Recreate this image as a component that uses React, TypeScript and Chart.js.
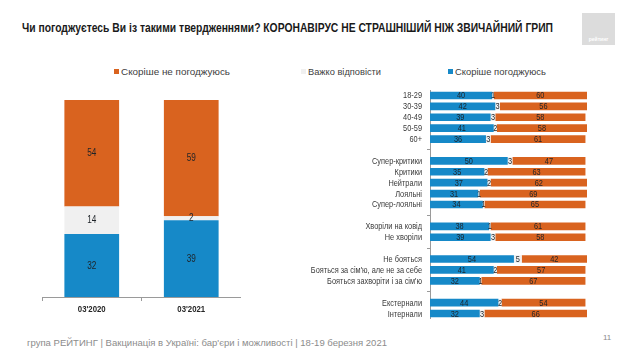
import React, { useEffect, useLayoutEffect, useRef } from "react";
import { Chart, registerables } from "chart.js";

Chart.register(...registerables);

const BLUE = "#1689c8";
const ORANGE = "#d9631f";
const GRAY = "#f0f0f0";
const HFONT = "'Liberation Sans', Arial, sans-serif";
const NARROW = 0.82;

// Left chart
const periods = ["03'2020", "03'2021"];
const leftAgree = [32, 39];
const leftHard = [14, 2];
const leftDisagree = [54, 59];

// Right chart
const groups = [
  "18-29", "30-39", "40-49", "50-59", "60+", "",
  "Супер-критики", "Критики", "Нейтрали", "Лояльні", "Супер-лояльні", "",
  "Хворіли на ковід", "Не хворіли", "",
  "Не бояться", "Бояться за сім'ю, але не за себе", "Бояться захворіти і за сім'ю", "",
  "Екстернали", "Інтернали",
];
const groupAgree = [40, 42, 39, 41, 36, null, 50, 35, 37, 31, 34, null, 38, 39, null, 54, 41, 32, null, 44, 32];
const groupHard = [1, 3, 3, 2, 3, null, 3, 2, 2, 1, 1, null, 1, 3, null, 5, 2, 1, null, 2, 3];
const groupDisagree = [60, 56, 58, 58, 61, null, 47, 63, 62, 69, 65, null, 61, 58, null, 42, 57, 67, null, 54, 66];

const legendItems = [
  { label: "Скоріше не погоджуюсь", color: ORANGE, x: 114, w: 109 },
  { label: "Важко відповісти", color: GRAY, x: 301, w: 73 },
  { label: "Скоріше погоджуюсь", color: BLUE, x: 448, w: 91 },
];

function FitText(props: { text: string; width: number; style: any }) {
  const ref = useRef<HTMLDivElement>(null);
  useLayoutEffect(() => {
    const el = ref.current!;
    el.style.transform = "none";
    const w = el.getBoundingClientRect().width;
    if (w > 0) el.style.transform = `scaleX(${props.width / w})`;
  }, [props.text, props.width]);
  return (
    <div ref={ref} style={{ display: "block", width: "max-content", whiteSpace: "nowrap", transformOrigin: "0 50%", ...props.style }}>
      {props.text}
    </div>
  );
}

function narrowText(ctx: any, text: string, x: number, y: number, align: string, font: string, color: string) {
  ctx.save();
  ctx.font = font;
  ctx.fillStyle = color;
  ctx.textAlign = align;
  ctx.textBaseline = "middle";
  ctx.translate(x, y);
  ctx.scale(NARROW, 1);
  ctx.fillText(text, 0, 0);
  ctx.restore();
}

const segLabels = (fontSize: number) => ({
  id: "segLabels",
  afterDatasetsDraw(chart: any) {
    chart.data.datasets.forEach((ds: any, i: number) => {
      const meta = chart.getDatasetMeta(i);
      meta.data.forEach((el: any, j: number) => {
        const v = ds.data[j];
        if (v === null || v === undefined) return;
        const p = el.getCenterPoint();
        narrowText(chart.ctx, String(v), p.x, p.y + 0.5, "center", `${fontSize}px ${HFONT}`, "#1e2328");
      });
    });
  },
});

const leftTicks = {
  id: "leftTicks",
  afterDraw(chart: any) {
    const xs = chart.scales.x;
    (chart.data.labels as string[]).forEach((lab, i) => {
      narrowText(chart.ctx, lab, xs.getPixelForValue(i), chart.chartArea.bottom + 12.5, "center",
        `bold 9.5px ${HFONT}`, "#262626");
    });
  },
};

const rightTicks = {
  id: "rightTicks",
  afterDraw(chart: any) {
    const ys = chart.scales.y;
    (chart.data.labels as string[]).forEach((lab, i) => {
      if (!lab) return;
      narrowText(chart.ctx, lab, chart.chartArea.left - 8, ys.getPixelForValue(i) + 0.5, "right",
        `9px ${HFONT}`, "#3a3a3a");
    });
  },
};

function LeftChart() {
  const ref = useRef<HTMLCanvasElement>(null);
  useEffect(() => {
    const chart = new Chart(ref.current!, {
      type: "bar",
      data: {
        labels: periods,
        datasets: [
          { label: "Скоріше погоджуюсь", data: leftAgree, backgroundColor: BLUE },
          { label: "Важко відповісти", data: leftHard, backgroundColor: GRAY },
          { label: "Скоріше не погоджуюсь", data: leftDisagree, backgroundColor: ORANGE },
        ],
      },
      options: {
        animation: false,
        responsive: false,
        maintainAspectRatio: false,
        layout: { padding: 0 },
        datasets: { bar: { categoryPercentage: 1, barPercentage: 0.55 } },
        plugins: { legend: { display: false }, tooltip: { enabled: false } },
        scales: {
          x: {
            stacked: true,
            grid: { drawOnChartArea: false, tickLength: 4, color: "#9a9a9a" },
            border: { color: "#9a9a9a" },
            ticks: { color: "rgba(0,0,0,0)", font: { size: 9 } },
            afterFit: (s: any) => { s.height = 28; s.paddingLeft = 0; s.paddingRight = 0; },
          },
          y: { stacked: true, display: false, min: 0, max: 100 },
        },
      },
      plugins: [segLabels(10), leftTicks],
    } as any);
    return () => chart.destroy();
  }, []);
  return (
    <canvas ref={ref} width={199} height={225}
      style={{ position: "absolute", left: 42, top: 100, width: 199, height: 225 }} />
  );
}

function RightChart() {
  const ref = useRef<HTMLCanvasElement>(null);
  useEffect(() => {
    const chart = new Chart(ref.current!, {
      type: "bar",
      data: {
        labels: groups,
        datasets: [
          { label: "Скоріше погоджуюсь", data: groupAgree, backgroundColor: BLUE },
          { label: "Важко відповісти", data: groupHard, backgroundColor: GRAY },
          { label: "Скоріше не погоджуюсь", data: groupDisagree, backgroundColor: ORANGE },
        ],
      },
      options: {
        indexAxis: "y",
        animation: false,
        responsive: false,
        maintainAspectRatio: false,
        layout: { padding: 0 },
        datasets: { bar: { categoryPercentage: 1, barPercentage: 0.7 } },
        plugins: { legend: { display: false }, tooltip: { enabled: false } },
        scales: {
          x: { stacked: true, display: false, min: 0, max: 101 },
          y: {
            stacked: true,
            grid: {
              drawOnChartArea: false, drawTicks: true, tickLength: 3, offset: false, color: "#9a9a9a",
              tickColor: (c: any) => (groups[c.index] === "" ? "#9a9a9a" : "rgba(0,0,0,0)"),
            },
            border: { color: "#9a9a9a" },
            ticks: { color: "rgba(0,0,0,0)", font: { size: 9 }, autoSkip: false },
            afterFit: (s: any) => { s.width = 180; s.paddingTop = 0; s.paddingBottom = 0; },
          },
        },
      },
      plugins: [segLabels(9), rightTicks],
    } as any);
    return () => chart.destroy();
  }, []);
  return (
    <canvas ref={ref} width={337} height={229}
      style={{ position: "absolute", left: 250, top: 89.5, width: 337, height: 229 }} />
  );
}

export default function App() {
  return (
    <div style={{ position: "absolute", left: 0, top: 0, width: 630, height: 354, background: "#fff", fontFamily: HFONT, overflow: "hidden" }}>
      <div style={{ position: "absolute", left: 22, top: 21 }}>
        <FitText text="Чи погоджуєтесь Ви із такими твердженнями? КОРОНАВІРУС НЕ СТРАШНІШИЙ НІЖ ЗВИЧАЙНИЙ ГРИП"
          width={531} style={{ fontSize: 12.5, fontWeight: "bold", color: "#1a1a1a" }} />
      </div>
      <div style={{ position: "absolute", left: 582, top: 13, width: 33, height: 32, background: "#dcdcdc" }}>
        <div style={{ position: "absolute", left: 0, right: 0, bottom: 3, textAlign: "center", color: "#fff", fontSize: 5, fontWeight: "bold" }}>рейтинг</div>
      </div>
      {legendItems.map((it, i) => (
        <div key={i} style={{ position: "absolute", left: it.x, top: 65, height: 12, display: "flex", alignItems: "center" }}>
          <span style={{ display: "inline-block", width: 5, height: 5, background: it.color, marginRight: 2 }} />
          <FitText text={it.label} width={it.w} style={{ fontSize: 9.5, color: "#404040" }} />
        </div>
      ))}
      <LeftChart />
      <RightChart />
      <div style={{ position: "absolute", left: 27, top: 338 }}>
        <FitText text="група РЕЙТИНГ | Вакцинація в Україні: бар'єри і можливості | 18-19 березня 2021"
          width={360} style={{ fontSize: 9, color: "#8c8c8c" }} />
      </div>
      <div style={{ position: "absolute", left: 603, top: 333, fontSize: 8, color: "#8c8c8c" }}>11</div>
    </div>
  );
}
